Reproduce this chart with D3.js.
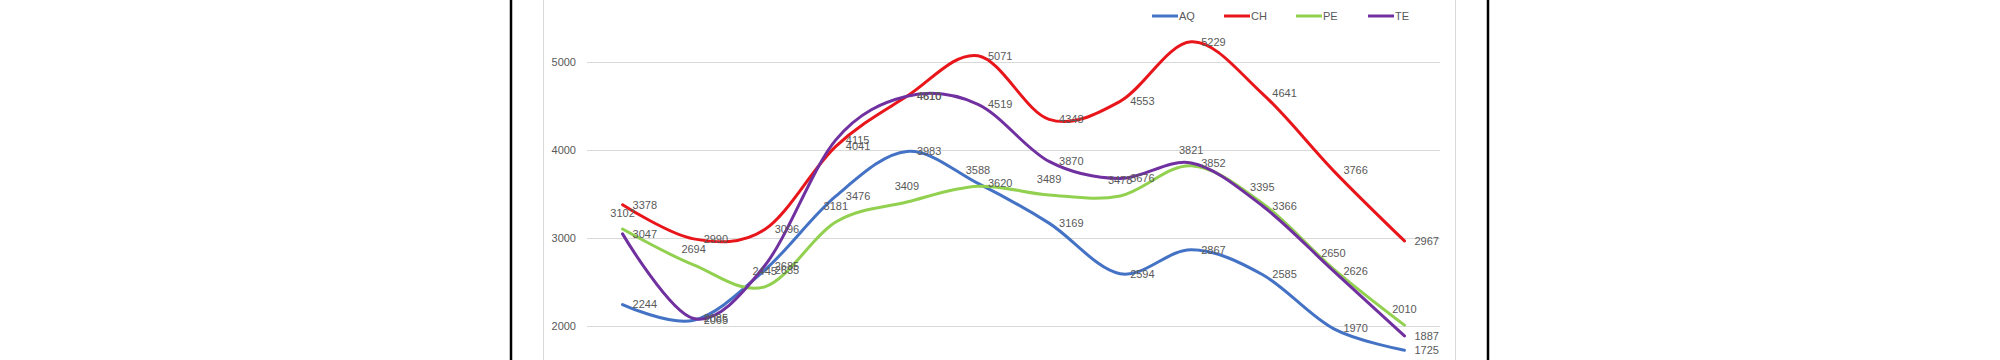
<!DOCTYPE html>
<html>
<head>
<meta charset="utf-8">
<script src="https://cdn.jsdelivr.net/npm/d3@7"></script>
<style>
  html, body { margin: 0; padding: 0; background: #fff; }
  svg { display: block; }
  text { font-family: "Liberation Sans", Arial, sans-serif; }
</style>
</head>
<body>
<svg id="chart" width="2000" height="360"></svg>
<script>
// ---- data ----
const categories = ["1", "2", "3", "4", "5", "6", "7", "8", "9", "10", "11", "12"];
const seriesNames = ["AQ", "CH", "PE", "TE"];
const AQ = [2244, 2065, 2635, 3476, 3983, 3620, 3169, 2594, 2867, 2585, 1970, 1725];
const CH = [3378, 2990, 3096, 4041, 4610, 5071, 4348, 4553, 5229, 4641, 3766, 2967];
const PE = [3102, 2694, 2445, 3181, 3409, 3588, 3489, 3478, 3821, 3395, 2650, 2010];
const TE = [3047, 2085, 2685, 4115, 4610, 4519, 3870, 3676, 3852, 3366, 2626, 1887];
const yTickValues = [2000, 3000, 4000, 5000];

// ---- styles ----
const colors = { AQ: "#4472C4", CH: "#E8161B", PE: "#92D050", TE: "#7030A0" };
const labelPlacement = { AQ: "right", CH: "right", PE: "above", TE: "right" };
const seriesData = { AQ, CH, PE, TE };

const svg = d3.select("#chart");

// frame lines (document borders and chart area border)
svg.append("line").attr("x1", 511).attr("x2", 511).attr("y1", 0).attr("y2", 360)
  .attr("stroke", "#000").attr("stroke-width", 2.5);
svg.append("line").attr("x1", 1488).attr("x2", 1488).attr("y1", 0).attr("y2", 360)
  .attr("stroke", "#000").attr("stroke-width", 2.5);
svg.append("line").attr("x1", 543.5).attr("x2", 543.5).attr("y1", 0).attr("y2", 360)
  .attr("stroke", "#d9d9d9").attr("stroke-width", 1);
svg.append("line").attr("x1", 1455.5).attr("x2", 1455.5).attr("y1", 0).attr("y2", 360)
  .attr("stroke", "#d9d9d9").attr("stroke-width", 1);

// scales
const x = d3.scaleBand().domain(categories).range([587, 1440]);
const cx = c => x(c) + x.bandwidth() / 2;
const y = d3.scaleLinear().domain([2000, 5000]).range([326, 62]);

// gridlines + y axis labels
const yAxis = d3.axisLeft(y).tickValues(yTickValues).tickSize(-(1440 - 587)).tickPadding(11)
  .tickFormat(d3.format("d"));
const gAxis = svg.append("g").attr("transform", "translate(587,0)").call(yAxis);
gAxis.select(".domain").remove();
gAxis.selectAll(".tick line").attr("stroke", "#d9d9d9").attr("stroke-width", 1)
  .attr("shape-rendering", "crispEdges");
gAxis.selectAll(".tick text").attr("fill", "#595959").attr("font-size", 11)
  .style("font-family", "'Liberation Sans', Arial, sans-serif");

// lines
const line = d3.line()
  .x((d, i) => cx(categories[i]))
  .y(d => y(d))
  .curve(d3.curveCatmullRom.alpha(0));

seriesNames.forEach(name => {
  svg.append("path")
    .datum(seriesData[name])
    .attr("fill", "none")
    .attr("stroke", colors[name])
    .attr("stroke-width", 3)
    .attr("stroke-linejoin", "round")
    .attr("stroke-linecap", "round")
    .attr("d", line);
});

// data labels
seriesNames.forEach(name => {
  const g = svg.append("g");
  g.selectAll("text")
    .data(seriesData[name])
    .join("text")
    .attr("x", (d, i) => labelPlacement[name] === "right" ? cx(categories[i]) + 10 : cx(categories[i]))
    .attr("y", d => labelPlacement[name] === "right" ? y(d) : y(d) - 16)
    .attr("dy", "0.35em")
    .attr("text-anchor", labelPlacement[name] === "right" ? "start" : "middle")
    .attr("fill", "#595959")
    .attr("font-size", 11)
    .text(d => d);
});

// legend
const legend = svg.append("g");
seriesNames.forEach((name, i) => {
  const lx = 1152 + i * 72;
  legend.append("line").attr("x1", lx).attr("x2", lx + 26).attr("y1", 16).attr("y2", 16)
    .attr("stroke", colors[name]).attr("stroke-width", 3);
  legend.append("text").attr("x", lx + 27).attr("y", 16).attr("dy", "0.35em")
    .attr("fill", "#595959").attr("font-size", 11).text(name);
});
</script>
</body>
</html>
